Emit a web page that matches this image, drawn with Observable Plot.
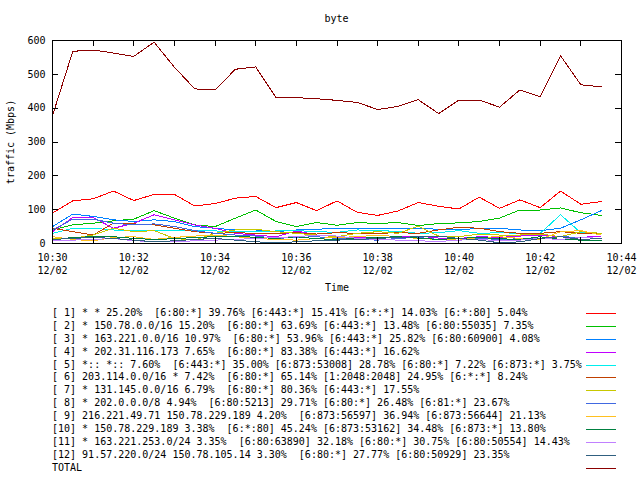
<!DOCTYPE html>
<html>
<head>
<meta charset="utf-8">
<script src="https://cdn.jsdelivr.net/npm/d3@7"></script>
<script src="https://cdn.jsdelivr.net/npm/@observablehq/plot@0.6"></script>
<style>
  body { margin: 0; background: #fff; }
  #wrap { position: relative; width: 640px; height: 480px; font-family: "DejaVu Sans Mono", monospace; font-size: 10px; color: #000; }
  #title { position: absolute; top: 13px; left: 52px; width: 569px; text-align: center; }
  #chart { position: absolute; top: 0; left: 0; }
  #legend { position: absolute; top: 307px; left: 52px; width: 588px; }
  .row { position: relative; height: 12.9px; line-height: 12.9px; white-space: pre; }
  .swatch { position: absolute; left: 533px; top: 0; }
</style>
</head>
<body>
<div id="wrap">
  <div id="chart"></div>
  <div id="title"></div>
  <div id="legend"></div>
</div>
<script>
const chartTitle = "byte";
const yLabel = "traffic (Mbps)";
const xLabel = "Time";

const times = ["10:30:00","10:30:30","10:31:00","10:31:30","10:32:00","10:32:30","10:33:00","10:33:30",
  "10:34:00","10:34:30","10:35:00","10:35:30","10:36:00","10:36:30","10:37:00","10:37:30",
  "10:38:00","10:38:30","10:39:00","10:39:30","10:40:00","10:40:30","10:41:00","10:41:30",
  "10:42:00","10:42:30","10:43:00","10:43:30"];

const s1  = [90,126,132,155,127,145,145,111,118,134,139,106,121,97,126,92,83,96,121,110,102,137,104,129,106,155,116,124];
const s2  = [40,55,60,67,72,97,75,55,50,75,99,65,50,62,54,62,59,62,53,59,61,65,75,99,99,105,91,83];
const s3  = [50,87,80,70,65,70,65,50,45,40,40,35,40,42,45,45,45,45,45,42,40,45,45,40,38,45,70,97];
const s4  = [35,77,77,45,60,85,70,55,45,30,25,20,37,25,20,18,15,20,22,16,15,20,18,22,25,20,18,22];
const s5  = [30,45,45,40,37,37,37,37,37,36,35,37,38,35,33,40,38,36,30,32,38,30,32,30,30,85,32,30];
const s6  = [45,35,25,60,58,55,45,35,30,32,30,30,32,28,32,30,30,32,30,40,48,45,35,30,30,35,30,28];
const s7  = [15,15,25,45,35,38,15,10,30,40,42,35,30,25,20,30,35,30,51,22,20,28,25,25,28,20,35,30];
const s8  = [40,72,72,60,55,58,50,38,30,25,22,15,18,20,15,12,10,15,18,12,10,15,12,14,15,20,18,15];
const s9  = [20,12,8,18,20,12,18,22,25,20,15,12,10,15,18,20,25,20,15,12,10,18,20,15,12,35,38,25];
const s10 = [10,18,20,20,15,12,14,18,20,22,18,15,20,14,12,15,18,20,16,12,15,18,14,12,20,12,10,8];
const s11 = [8,10,12,15,8,6,5,8,10,12,15,18,20,25,22,15,12,10,8,6,10,12,8,10,15,12,18,15];
const s12 = [12,15,18,15,10,5,8,12,15,10,5,2,5,8,10,12,15,18,20,22,15,10,2,5,15,20,12,15];
const total = [378,568,572,563,553,595,521,457,454,515,522,431,431,428,423,417,396,405,425,384,424,424,403,454,434,555,469,463];

const legendLabels = [
  "[ 1] * * 25.20%  [6:80:*] 39.76% [6:443:*] 15.41% [6:*:*] 14.03% [6:*:80] 5.04%",
  "[ 2] * 150.78.0.0/16 15.20%  [6:80:*] 63.69% [6:443:*] 13.48% [6:80:55035] 7.35%",
  "[ 3] * 163.221.0.0/16 10.97%  [6:80:*] 53.96% [6:443:*] 25.82% [6:80:60900] 4.08%",
  "[ 4] * 202.31.116.173 7.65%  [6:80:*] 83.38% [6:443:*] 16.62%",
  "[ 5] *:: *:: 7.60%  [6:443:*] 35.00% [6:873:53008] 28.78% [6:80:*] 7.22% [6:873:*] 3.75%",
  "[ 6] 203.114.0.0/16 * 7.42%  [6:80:*] 65.14% [1:2048:2048] 24.95% [6:*:*] 8.24%",
  "[ 7] * 131.145.0.0/16 6.79%  [6:80:*] 80.36% [6:443:*] 17.55%",
  "[ 8] * 202.0.0.0/8 4.94%  [6:80:5213] 29.71% [6:80:*] 26.48% [6:81:*] 23.67%",
  "[ 9] 216.221.49.71 150.78.229.189 4.20%  [6:873:56597] 36.94% [6:873:56644] 21.13%",
  "[10] * 150.78.229.189 3.38%  [6:*:80] 45.24% [6:873:53162] 34.48% [6:873:*] 13.80%",
  "[11] * 163.221.253.0/24 3.35%  [6:80:63890] 32.18% [6:80:*] 30.75% [6:80:50554] 14.43%",
  "[12] 91.57.220.0/24 150.78.105.14 3.30%  [6:80:*] 27.77% [6:80:50929] 23.35%",
  "TOTAL"
];
const colors = ["#ff0000","#00c000","#0080ff","#c000ff","#00eeee","#c04000","#c8c800","#4169e1","#ffc020","#008040","#c080ff","#306080","#8b0000"];

const yTicks = [0,100,200,300,400,500,600];
const xMinorTicks = ["10:30","10:31","10:32","10:33","10:34","10:35","10:36","10:37","10:38","10:39","10:40","10:41","10:42","10:43","10:44"];
const xLabelTicks = ["10:30","10:32","10:34","10:36","10:38","10:40","10:42","10:44"];
const xDomain = ["10:30","10:44"];

const toDate = t => new Date(`2000-12-02T${t.length === 5 ? t + ":00" : t}Z`);
const allSeries = [s1,s2,s3,s4,s5,s6,s7,s8,s9,s10,s11,s12,total];

const W = 640, H = 300;
const mL = 52, mR = 19, mT = 40, mB = 57;
const frameW = W - mL - mR, frameH = H - mT - mB;

const lineMarks = allSeries.map((vals, k) =>
  Plot.line(times.map((t, i) => ({time: toDate(t), value: vals[i]})), {
    x: "time", y: "value", stroke: colors[k], strokeWidth: 1, shapeRendering: "crispEdges"
  })
);

const fmt = d3.utcFormat("%H:%M\n%m/%d");

const chart = Plot.plot({
  width: W, height: H,
  marginLeft: mL, marginRight: mR, marginTop: mT, marginBottom: mB,
  style: {fontFamily: "DejaVu Sans Mono, monospace", fontSize: "10px", color: "#000", background: "#fff"},
  x: {type: "utc", domain: xDomain.map(toDate)},
  y: {domain: [yTicks[0], yTicks[yTicks.length - 1]]},
  marks: [
    ...lineMarks,
    Plot.frame({stroke: "#000", shapeRendering: "crispEdges"}),
    Plot.ruleX(xMinorTicks.map(toDate), {insetTop: frameH - 6, stroke: "#000", shapeRendering: "crispEdges"}),
    Plot.ruleX(xMinorTicks.map(toDate), {insetBottom: frameH - 6, stroke: "#000", shapeRendering: "crispEdges"}),
    Plot.ruleY(yTicks, {insetRight: frameW - 6, stroke: "#000", shapeRendering: "crispEdges"}),
    Plot.ruleY(yTicks, {insetLeft: frameW - 6, stroke: "#000", shapeRendering: "crispEdges"}),
    Plot.axisY({ticks: yTicks, tickSize: 0, tickPadding: 7, label: yLabel, labelAnchor: "center", labelOffset: 46, labelArrow: "none"}),
    Plot.axisX({ticks: xLabelTicks.map(toDate), tickFormat: fmt, tickSize: 0, tickPadding: 8, lineHeight: 1.33,
      label: xLabel, labelAnchor: "center", labelOffset: 47, labelArrow: "none"})
  ]
});
document.getElementById("chart").appendChild(chart);
document.getElementById("title").textContent = chartTitle;

const svgNS = "http://www.w3.org/2000/svg";
const legend = document.getElementById("legend");
legendLabels.forEach((lab, k) => {
  const row = document.createElement("div");
  row.className = "row";
  row.textContent = lab;
  const sw = document.createElementNS(svgNS, "svg");
  sw.setAttribute("class", "swatch");
  sw.setAttribute("width", "32");
  sw.setAttribute("height", "12");
  const ln = document.createElementNS(svgNS, "line");
  ln.setAttribute("x1", "1"); ln.setAttribute("x2", "31");
  ln.setAttribute("y1", "6.5"); ln.setAttribute("y2", "6.5");
  ln.setAttribute("stroke", colors[k]);
  ln.setAttribute("stroke-width", "1");
  ln.setAttribute("shape-rendering", "crispEdges");
  sw.appendChild(ln);
  row.appendChild(sw);
  legend.appendChild(row);
});
</script>
</body>
</html>
